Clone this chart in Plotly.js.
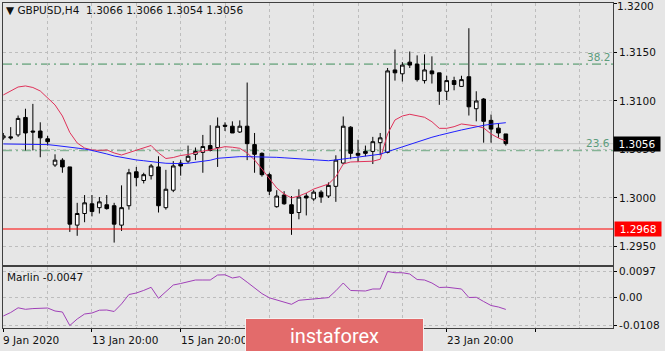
<!DOCTYPE html>
<html><head><meta charset="utf-8">
<script src="https://cdn.plot.ly/plotly-3.0.1.min.js"></script>
<style>html,body{margin:0;padding:0;background:#e6e6e6;}#chart{width:665px;height:351px;}</style>
</head><body><div id="chart"></div>
<script>
// ---- data (GBPUSD H4, bars from 9 Jan 2020 20:00) ----
const opens = [1.3062,1.3063,1.3065,1.3083,1.3069,1.3069,1.3061,1.3034,1.3039,1.3032,
1.2972,1.2984,1.2994,1.2990,1.2993,1.2992,1.2972,1.2992,1.3027,1.3018,
1.3023,1.3032,1.2990,1.3008,1.3036,1.3038,1.3045,1.3047,1.3054,1.3052,
1.3075,1.3074,1.3068,1.3074,1.3055,1.3046,1.3024,1.2991,1.3003,1.2993,
1.2985,1.3002,1.2999,1.3006,1.3002,1.3012,1.3036,1.3073,1.3046,1.3048,
1.3048,1.3057,1.3047,1.3132,1.3128,1.3140,1.3138,1.3121,1.3131,1.3129,
1.3110,1.3121,1.3115,1.3125,1.3092,1.3102,1.3080,1.3072,1.3066];
const highs = [1.3067,1.3073,1.3085,1.3092,1.3097,1.3078,1.3064,1.3045,1.3041,1.3032,
1.2995,1.3003,1.3003,1.3001,1.3003,1.2995,1.3013,1.3030,1.3032,1.3026,
1.3035,1.3043,1.3029,1.3038,1.3039,1.3054,1.3052,1.3065,1.3075,1.3083,
1.3078,1.3079,1.3080,1.3119,1.3067,1.3047,1.3026,1.3008,1.3007,1.3002,
1.3009,1.3005,1.3008,1.3008,1.3016,1.3044,1.3084,1.3074,1.3060,1.3054,
1.3063,1.3067,1.3134,1.3153,1.3140,1.3151,1.3147,1.3148,1.3146,1.3129,
1.3126,1.3125,1.3126,1.3175,1.3110,1.3103,1.3086,1.3077,1.3066];
const lows = [1.3060,1.3060,1.3063,1.3049,1.3049,1.3042,1.3054,1.3032,1.3026,1.2965,
1.2961,1.2975,1.2981,1.2984,1.2988,1.2954,1.2966,1.2988,1.3012,1.3015,
1.3019,1.2985,1.2988,1.3006,1.3023,1.3036,1.3039,1.3026,1.3048,1.3032,
1.3069,1.3067,1.3067,1.3039,1.3026,1.3022,1.3003,1.2990,1.2993,1.2962,
1.2978,1.2982,1.2997,1.2995,1.3000,1.2996,1.3035,1.3040,1.3037,1.3043,
1.3035,1.3044,1.3046,1.3121,1.3120,1.3134,1.3120,1.3118,1.3118,1.3096,
1.3101,1.3111,1.3115,1.3085,1.3079,1.3057,1.3057,1.3062,1.3054];
const closes = [1.3064,1.3062,1.3082,1.3067,1.3068,1.3062,1.3058,1.3039,1.3032,1.2973,
1.2984,1.2995,1.2986,1.2996,1.2989,1.2973,1.2990,1.3026,1.3021,1.3024,
1.3033,1.2992,1.3009,1.3033,1.3033,1.3043,1.3048,1.3053,1.3049,1.3074,
1.3074,1.3067,1.3074,1.3056,1.3045,1.3024,1.3007,1.3002,1.2994,1.2984,
1.3001,1.3000,1.3006,1.3001,1.3013,1.3039,1.3074,1.3046,1.3044,1.3046,
1.3058,1.3062,1.3131,1.3129,1.3137,1.3137,1.3122,1.3132,1.3128,1.3110,
1.3121,1.3117,1.3122,1.3094,1.3100,1.3079,1.3071,1.3067,1.3056];
const maFast = [1.31062,1.31103,1.31144,1.31155,1.31139,1.31103,1.31036,1.30959,1.30845,1.30675,
1.30567,1.30515,1.30495,1.30490,1.30495,1.30464,1.30443,1.30469,1.30495,1.30515,
1.30541,1.30464,1.30407,1.30417,1.30438,1.30448,1.30469,1.30484,1.30495,1.30512,
1.30529,1.30523,1.30512,1.30464,1.30392,1.30299,1.30196,1.30103,1.30041,1.30000,
1.30020,1.30051,1.30092,1.30120,1.30144,1.30219,1.30350,1.30371,1.30376,1.30374,
1.30379,1.30399,1.30660,1.30804,1.30845,1.30863,1.30845,1.30832,1.30786,1.30718,
1.30718,1.30735,1.30763,1.30753,1.30742,1.30722,1.30660,1.30618,1.30587];
const maSlow = [1.30557,1.30557,1.30557,1.30557,1.30557,1.30557,1.30550,1.30542,1.30533,1.30526,
1.30516,1.30505,1.30490,1.30474,1.30454,1.30433,1.30417,1.30402,1.30392,1.30384,
1.30378,1.30366,1.30358,1.30354,1.30354,1.30358,1.30366,1.30376,1.30389,1.30409,
1.30417,1.30422,1.30426,1.30426,1.30426,1.30425,1.30422,1.30419,1.30414,1.30409,
1.30402,1.30397,1.30392,1.30386,1.30384,1.30392,1.30402,1.30412,1.30417,1.30426,
1.30436,1.30451,1.30477,1.30503,1.30529,1.30555,1.30575,1.30601,1.30626,1.30646,
1.30667,1.30683,1.30701,1.30718,1.30735,1.30749,1.30760,1.30770,1.30776];
const marlin = [-0.00719,-0.00587,-0.00408,-0.00465,-0.00438,-0.00416,-0.00416,-0.00530,-0.00568,-0.0108,
-0.00833,-0.00644,-0.00606,-0.00499,-0.00492,-0.00549,-0.00260,0.00097,0.00154,0.00252,
0.00370,-0.00047,0.00207,0.00457,0.00514,0.00571,0.00647,0.00647,0.00647,0.00837,
0.00845,0.00723,0.00773,0.00564,0.00351,0.00131,-0.00028,-0.00112,-0.00192,-0.00275,
-0.00123,-0.00101,-0.00089,-0.00066,-0.00021,0.00237,0.00533,0.00249,0.00237,0.00230,
0.00306,0.00306,0.0097,0.00924,0.00924,0.00875,0.00666,0.00647,0.00533,0.00363,
0.00374,0.00344,0.00306,-0.00017,-0.00009,-0.00169,-0.00321,-0.00378,-0.0047];
// visible date labels (17 Jan and 21 Jan are hidden under the logo in the reference)
const dateLabels = ["9 Jan 2020","13 Jan 20:00","15 Jan 20:00","23 Jan 20:00"];
const dateLabelBars = [0,12,24,60];
const priceTicks = [1.2950,1.3000,1.3050,1.3100,1.3150,1.3200];
const marlinTicks = [0.0097,0.00,-0.0108];
const marlinTickText = ["0.0097","0.00","-0.0108"];
const fibLevels = [1.3138,1.3049];
const fibNames = ["38.2","23.6"];
const supportLevel = 1.2968;
const lastPrice = 1.3056;
const headerText = "\u25BC GBPUSD,H4\u00a0 1.3066 1.3066 1.3054 1.3056";
const marlinLabel = "Marlin -0.0047";

// ---- layout ----
const W=665,H=351,ML=3,MR=52,MT=3,MB=23;
const PH=H-MT-MB, PW=W-ML-MR;
const pyToPaper = py => (H-MB-py)/PH;
const pxToPaper = px => (px-ML)/PW;
const idx = opens.map((_,i)=>i);
const FONT = "DejaVu Sans";
const gridC = "#bdbdbd", gridDash = "3px,3px", frameC = "#404040";
const topTick = priceTicks[priceTicks.length-1];

const traces = [
 {type:'candlestick', x:idx, open:opens, high:highs, low:lows, close:closes,
  xaxis:'x', yaxis:'y', whiskerwidth:0,
  increasing:{line:{color:'#000',width:1}, fillcolor:'#ffffff'},
  decreasing:{line:{color:'#000',width:1}, fillcolor:'#000000'},
  showlegend:false, hoverinfo:'none'},
 {type:'scatter', mode:'lines', x:idx, y:maFast, xaxis:'x', yaxis:'y',
  line:{color:'#e0325a', width:1}, showlegend:false, hoverinfo:'none'},
 {type:'scatter', mode:'lines', x:idx, y:maSlow, xaxis:'x', yaxis:'y',
  line:{color:'#1f1fff', width:1}, showlegend:false, hoverinfo:'none'},
 {type:'scatter', mode:'lines', x:idx, y:marlin, xaxis:'x2', yaxis:'y2',
  line:{color:'#a040b8', width:1}, showlegend:false, hoverinfo:'none'}
];

const shapes = [];
fibLevels.forEach(v=>shapes.push({type:'line', xref:'paper', x0:0, x1:1, yref:'y', y0:v, y1:v,
  line:{color:'#86b496', width:1.6, dash:'9px,4px,2px,4px'}, layer:'between'}));
shapes.push({type:'line', xref:'paper', x0:0, x1:1, yref:'y', y0:lastPrice, y1:lastPrice,
  line:{color:'#c6c6c6', width:1}, layer:'between'});
shapes.push({type:'line', xref:'paper', x0:0, x1:1, yref:'y', y0:supportLevel, y1:supportLevel,
  line:{color:'#ff0000', width:1}, layer:'above'});

const annotations = [];
annotations.push({xref:'paper', yref:'paper', x:pxToPaper(4), y:pyToPaper(10), xanchor:'left', yanchor:'middle',
  text:headerText, showarrow:false, font:{family:FONT, size:10.5, color:'#111'}});
fibLevels.forEach((v,k)=>annotations.push({xref:'paper', yref:'y', x:1, y:v, xanchor:'right', yanchor:'bottom',
  xshift:-1, yshift:-1, text:fibNames[k], showarrow:false, font:{family:FONT, size:10.5, color:'#5c9c7c'}}));
annotations.push({xref:'paper', yref:'paper', x:pxToPaper(5), y:pyToPaper(277), xanchor:'left', yanchor:'middle',
  text:marlinLabel, showarrow:false, font:{family:FONT, size:10.5, color:'#111'}});
dateLabels.forEach((t,k)=>annotations.push({xref:'x', yref:'paper', x:dateLabelBars[k], y:pyToPaper(340),
  xanchor:'left', yanchor:'middle', xshift:-2, text:t, showarrow:false, font:{family:FONT, size:10.5, color:'#111'}}));
// top price label, nudged down so it stays inside the picture
annotations.push({xref:'paper', yref:'y', x:1, y:topTick, xanchor:'left', yanchor:'middle', xshift:3, yshift:-2,
  text:topTick.toFixed(4), showarrow:false, borderpad:0, font:{family:FONT, size:10.5, color:'#111'}});
annotations.push({xref:'paper', yref:'y', x:1, y:lastPrice, xanchor:'left', yanchor:'middle', xshift:0,
  text:lastPrice.toFixed(4), showarrow:false, bgcolor:'#000', borderpad:1, width:44,
  font:{family:FONT, size:10.5, color:'#fff'}});
annotations.push({xref:'paper', yref:'y', x:1, y:supportLevel, xanchor:'left', yanchor:'middle', xshift:1,
  text:supportLevel.toFixed(4), showarrow:false, bgcolor:'#ff0000', borderpad:1, width:44,
  font:{family:FONT, size:10.5, color:'#fff'}});
annotations.push({xref:'paper', yref:'paper', x:pxToPaper(334.5), y:pyToPaper(335.5), xanchor:'center', yanchor:'middle',
  text:'instaforex', showarrow:false, bgcolor:'#e36b6b', bordercolor:'#f2f2f2', borderwidth:1, borderpad:0,
  width:177, height:33, font:{family:'Roboto', size:20, color:'#fff'}});

const xCommon = {range:[-0.04, (PW-0.3)/7.39], tick0:0, dtick:12, showgrid:true, gridcolor:gridC, griddash:gridDash,
  minor:{tick0:0, dtick:6, showgrid:true, gridcolor:gridC, griddash:gridDash, ticks:''},
  zeroline:false, showline:true, mirror:true, linecolor:frameC, linewidth:1, showticklabels:false, fixedrange:true};

const layout = {
 width:W, height:H, margin:{l:ML, r:MR, t:MT, b:MB, pad:0},
 paper_bgcolor:'#e6e6e6', plot_bgcolor:'#e6e6e6', showlegend:false,
 xaxis:Object.assign({}, xCommon, {anchor:'y', ticks:'', rangeslider:{visible:false}}),
 xaxis2:Object.assign({}, xCommon, {anchor:'y2', matches:'x', ticks:'outside', ticklen:3, tickcolor:'#000'}),
 yaxis:{domain:[pyToPaper(265),1], anchor:'x', side:'right', range:[1.29309,1.32010],
  tickvals:priceTicks, ticktext:priceTicks.map(v=>v===topTick?'':v.toFixed(4)), ticks:'outside', ticklen:3, tickcolor:'#000',
  showgrid:true, gridcolor:gridC, griddash:gridDash, zeroline:false, showline:true, mirror:true, linecolor:frameC,
  tickfont:{family:FONT, size:10.5, color:'#111'}, fixedrange:true},
 yaxis2:{domain:[0,pyToPaper(267)], anchor:'x2', side:'right', range:[-0.01175,0.01141],
  tickvals:marlinTicks, ticktext:marlinTickText, ticks:'outside', ticklen:3, tickcolor:'#000',
  ticklabeloverflow:'allow',
  showgrid:true, gridcolor:gridC, griddash:gridDash, zeroline:false, showline:true, mirror:true, linecolor:frameC,
  tickfont:{family:FONT, size:10.5, color:'#111'}, fixedrange:true},
 shapes:shapes, annotations:annotations
};
Plotly.newPlot('chart', traces, layout, {displayModeBar:false, staticPlot:true});
</script></body></html>
